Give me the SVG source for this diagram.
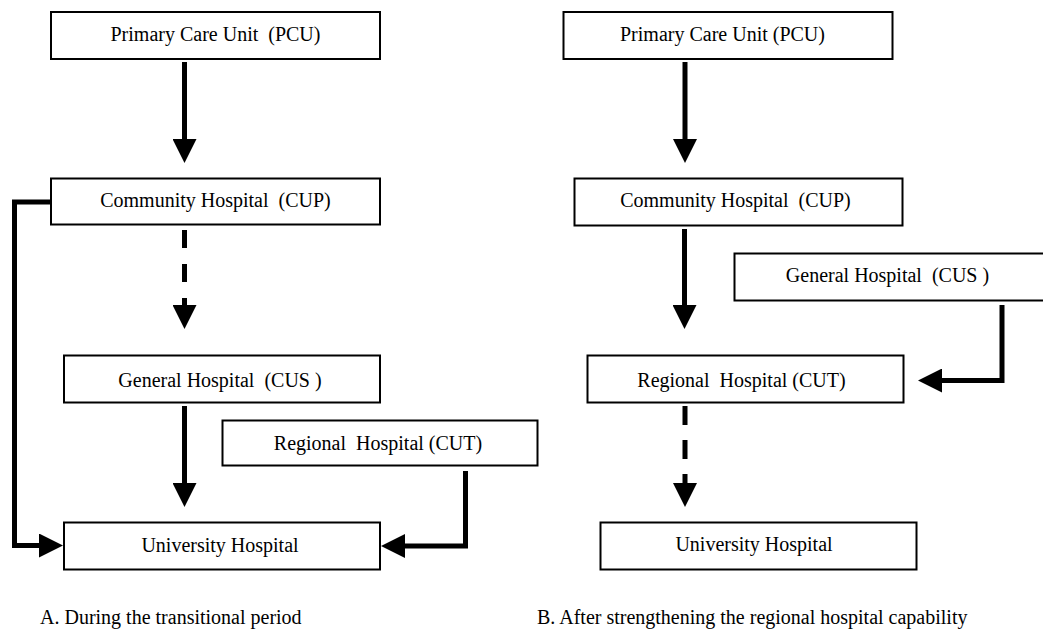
<svg xmlns="http://www.w3.org/2000/svg" width="1043" height="629" viewBox="0 0 1043 629">
<style>
  .box { fill: #fff; stroke: #000; stroke-width: 2; }
  .lbl { font-family: "Liberation Serif", "Times New Roman", serif; font-size: 20px; fill: #000; text-anchor: middle; white-space: pre; }
  .cap { font-family: "Liberation Serif", "Times New Roman", serif; font-size: 20px; fill: #000; white-space: pre; }
  .conn { fill: none; stroke: #000; stroke-width: 5; marker-end: url(#ah); }
  .dash { stroke-dasharray: 18 16; }
</style>
<defs>
  <marker id="ah" markerUnits="userSpaceOnUse" viewBox="0 -12 24 24" refX="1" refY="0" markerWidth="24" markerHeight="24" orient="auto">
    <path d="M0,-12 L24,0 L0,12 z" fill="#000"/>
  </marker>
</defs>
<rect width="1043" height="629" fill="#fff"/>

<g id="connectors">
  <!-- A -->
  <path class="conn" d="M184.5,62 V140"/>
  <path class="conn dash" d="M184.5,230 V306"/>
  <path class="conn" d="M184.5,406 V484"/>
  <path class="conn" d="M51,202 H14.5 V545.5 H40"/>
  <path class="conn" d="M465.5,471 V546 H404"/>
  <!-- B -->
  <path class="conn" d="M685,62 V140"/>
  <path class="conn" d="M684.5,229 V306"/>
  <path class="conn" d="M1002,305 V380.5 H941"/>
  <path class="conn" d="M685,406 V484" style="stroke-dasharray:19 15"/>
</g>

<g id="a-pcu"><rect class="box" x="51" y="12" width="329" height="47"/><text class="lbl" x="215.5" y="41">Primary Care Unit  (PCU)</text></g>
<g id="a-cup"><rect class="box" x="51" y="178.5" width="329" height="46"/><text class="lbl" x="215.5" y="207">Community Hospital  (CUP)</text></g>
<g id="a-cus"><rect class="box" x="64" y="355.5" width="316" height="47"/><text class="lbl" x="220" y="387">General Hospital  (CUS )</text></g>
<g id="a-cut"><rect class="box" x="222.5" y="420.5" width="315" height="45"/><text class="lbl" x="378" y="450">Regional  Hospital (CUT)</text></g>
<g id="a-univ"><rect class="box" x="64" y="522.5" width="316" height="47"/><text class="lbl" x="220" y="552">University Hospital</text></g>

<g id="b-pcu"><rect class="box" x="563.5" y="12" width="329" height="47"/><text class="lbl" x="722.5" y="41">Primary Care Unit (PCU)</text></g>
<g id="b-cup"><rect class="box" x="574.5" y="178.5" width="328" height="47"/><text class="lbl" x="735.5" y="207">Community Hospital  (CUP)</text></g>
<g id="b-cus"><rect class="box" x="734.5" y="253.5" width="320" height="47"/><text class="lbl" x="887.5" y="282">General Hospital  (CUS )</text></g>
<g id="b-cut"><rect class="box" x="587.5" y="355.5" width="316" height="47"/><text class="lbl" x="741.5" y="387">Regional  Hospital (CUT)</text></g>
<g id="b-univ"><rect class="box" x="600.5" y="522.5" width="316" height="47"/><text class="lbl" x="754" y="551">University Hospital</text></g>

<text class="cap" x="40" y="624">A. During the transitional period</text>
<text class="cap" x="537" y="624">B. After strengthening the regional hospital capability</text>
</svg>
